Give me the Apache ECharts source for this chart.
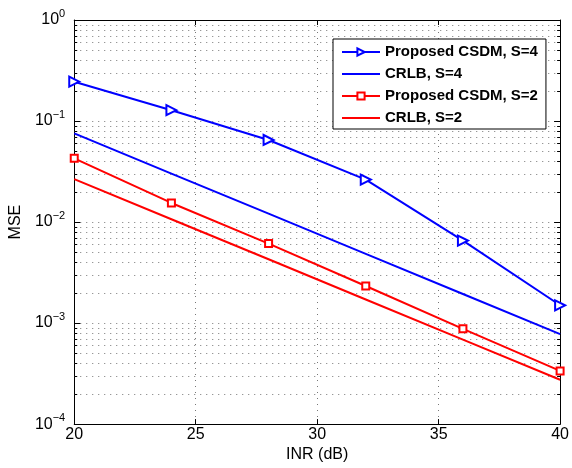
<!DOCTYPE html>
<html>
<head>
<meta charset="utf-8">
<script src="https://cdn.jsdelivr.net/npm/echarts@6/dist/echarts.min.js"></script>
<style>
  html, body { margin: 0; padding: 0; background: #fff; }
  #chart { width: 572px; height: 468px; }
</style>
</head>
<body>
<div id="chart"></div>
<script>
// INR in dB
var inr = [20, 24, 28, 32, 36, 40];
// MSE values
var csdmS4 = [0.245, 0.128, 0.0649, 0.0263, 0.00655, 0.0015];
var crlbS4 = [0.0754, 0.0302, 0.0121, 0.00484, 0.00194, 0.000778];
var csdmS2 = [0.0427, 0.01545, 0.00612, 0.00233, 0.000877, 0.000336];
var crlbS2 = [0.0266, 0.01067, 0.00428, 0.00171, 0.000686, 0.000275];
var seriesNames = ['Proposed CSDM, S=4', 'CRLB, S=4', 'Proposed CSDM, S=2', 'CRLB, S=2'];
// log axis: decades and the 2..9 minor ticks between them
var decades = [1e-4, 1e-3, 1e-2, 1e-1];
var minorSteps = [2, 3, 4, 5, 6, 7, 8, 9];

function pairs(ys) {
    return inr.map(function (x, i) { return [x, ys[i]]; });
}

var minorValues = [];
decades.forEach(function (d) {
    minorSteps.forEach(function (m) { minorValues.push([inr[0], +(d * m).toPrecision(3)]); });
});

var dotColor = '#777';
var dotted = { color: dotColor, width: 1, type: [1, 5] };
var font = 'Liberation Sans, Arial, sans-serif';

var myChart = echarts.init(document.getElementById('chart'), null, { renderer: 'canvas' });

var option = {
    animation: false,
    backgroundColor: '#fff',
    grid: { left: 67, right: 10, top: 20, bottom: 37 },
    legend: {
        orient: 'vertical',
        left: 333,
        top: 39,
        padding: [5, 8, 3, 8],
        itemGap: 6,
        itemWidth: 38,
        itemHeight: 9,
        borderColor: '#000',
        borderWidth: 1,
        backgroundColor: '#fff',
        shadowBlur: 0,
        shadowColor: 'transparent',
        data: [
            { name: seriesNames[0] },
            { name: seriesNames[1], itemStyle: { opacity: 0 } },
            { name: seriesNames[2] },
            { name: seriesNames[3], itemStyle: { opacity: 0 } }
        ],
        textStyle: { fontFamily: font, fontSize: 15, fontWeight: 'bold', color: '#000', lineHeight: 16 }
    },
    xAxis: [{
        type: 'value',
        min: 20, max: 40, interval: 5,
        name: 'INR (dB)',
        nameLocation: 'middle',
        nameGap: 10,
        nameTextStyle: { fontFamily: font, fontSize: 16, color: '#000', verticalAlign: 'top' },
        axisLine: { lineStyle: { color: '#000', width: 1 } },
        axisTick: { inside: true, length: 5, lineStyle: { color: '#000' } },
        axisLabel: { fontFamily: font, fontSize: 16, color: '#000', margin: 2 },
        splitLine: { show: true, lineStyle: dotted }
    }, {
        type: 'value',
        position: 'top',
        min: 20, max: 40, interval: 5,
        axisLine: { lineStyle: { color: '#000', width: 1 } },
        axisTick: { inside: true, length: 5, lineStyle: { color: '#000' } },
        axisLabel: { show: false },
        splitLine: { show: false }
    }],
    yAxis: [{
        type: 'log',
        logBase: 10,
        min: 1e-4, max: 1,
        name: 'MSE',
        nameLocation: 'middle',
        nameGap: 34,
        nameTextStyle: { fontFamily: font, fontSize: 16, color: '#000' },
        axisLine: { lineStyle: { color: '#000', width: 1 } },
        axisTick: { inside: true, length: 6, lineStyle: { color: '#000' } },
        splitLine: { show: true, lineStyle: dotted },
        axisLabel: {
            margin: 9,
            formatter: function (v) {
                var e = Math.round(Math.log10(v));
                return '{b|10}{s|' + (e < 0 ? '\u2212' + (-e) : e) + '}';
            },
            rich: {
                b: { fontFamily: font, fontSize: 16, color: '#000' },
                s: { fontFamily: font, fontSize: 11, color: '#000', padding: [0, 0, 12, 0] }
            }
        }
    }, {
        type: 'log',
        logBase: 10,
        position: 'right',
        min: 1e-4, max: 1,
        axisLine: { show: true, lineStyle: { color: '#000', width: 1 } },
        axisTick: { inside: true, length: 6, lineStyle: { color: '#000' } },
        axisLabel: { show: false },
        splitLine: { show: false }
    }],
    series: [{
        // minor log grid lines and minor ticks on both y axes
        name: 'minor',
        type: 'custom',
        silent: true,
        z: 1,
        clip: false,
        data: minorValues,
        renderItem: function (params, api) {
            var p = api.coord([api.value(0), api.value(1)]);
            var cs = params.coordSys;
            var y = Math.round(p[1]) + 0.5;
            var x0 = cs.x, x1 = cs.x + cs.width;
            return {
                type: 'group',
                children: [
                    { type: 'line', shape: { x1: x0, y1: y, x2: x1, y2: y },
                      style: { stroke: dotColor, lineWidth: 1, lineDash: [1, 5] } },
                    { type: 'line', shape: { x1: x0, y1: y, x2: x0 + 3, y2: y },
                      style: { stroke: '#000', lineWidth: 1 } },
                    { type: 'line', shape: { x1: x1 - 3, y1: y, x2: x1, y2: y },
                      style: { stroke: '#000', lineWidth: 1 } }
                ]
            };
        }
    }, {
        name: seriesNames[0],
        type: 'line',
        z: 3,
        data: pairs(csdmS4),
        symbol: 'emptyTriangle',
        symbolRotate: -90,
        symbolSize: 10,
        color: '#0000ff',
        lineStyle: { width: 2 },
        itemStyle: { borderWidth: 1.5 }
    }, {
        name: seriesNames[1],
        type: 'line',
        z: 3,
        data: pairs(crlbS4),
        symbol: 'none',
        color: '#0000ff',
        lineStyle: { width: 2 }
    }, {
        name: seriesNames[2],
        type: 'line',
        z: 3,
        data: pairs(csdmS2),
        symbol: 'emptyRect',
        symbolSize: 7,
        color: '#ff0000',
        lineStyle: { width: 2 },
        itemStyle: { borderWidth: 1.5 }
    }, {
        name: seriesNames[3],
        type: 'line',
        z: 3,
        data: pairs(crlbS2),
        symbol: 'none',
        color: '#ff0000',
        lineStyle: { width: 2 }
    }]
};

myChart.setOption(option);
</script>
</body>
</html>
